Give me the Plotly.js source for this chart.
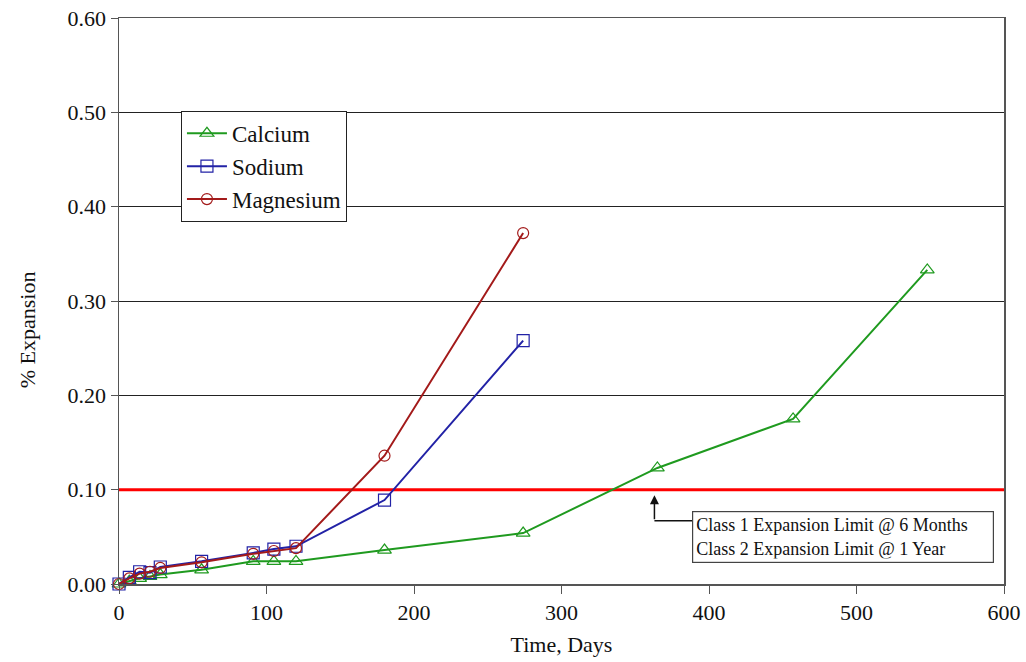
<!DOCTYPE html>
<html>
<head>
<meta charset="utf-8">
<script src="https://cdn.plot.ly/plotly-3.0.1.min.js"></script>
<style>
  html, body { margin: 0; padding: 0; background: #fff; }
  #chart { width: 1026px; height: 662px; }
</style>
</head>
<body>
<div id="chart"></div>
<script>
// Age (days) at each length reading
const calciumDays = [0, 7, 14, 21, 28, 56, 91, 105, 120, 180, 274, 365, 457, 548];
const calciumExp  = [0.000, 0.003, 0.006, 0.008, 0.010, 0.015, 0.024, 0.024, 0.024, 0.036, 0.054, 0.123, 0.175, 0.333];

const sodiumDays = [0, 7, 14, 21, 28, 56, 91, 105, 120, 180, 274];
const sodiumExp  = [0.000, 0.007, 0.013, 0.012, 0.018, 0.024, 0.033, 0.037, 0.040, 0.089, 0.258];

const magnesiumDays = [0, 7, 14, 21, 28, 56, 91, 105, 120, 180, 274];
const magnesiumExp  = [0.000, 0.006, 0.011, 0.013, 0.017, 0.023, 0.032, 0.035, 0.038, 0.136, 0.372];

// Expansion limit line
const limitDays = [0, 600];
const limitExp  = [0.10, 0.10];

// Callout geometry (data units)
const calloutDay = 363;
const calloutElbow = 0.067;
const calloutBoxDay = 388.5;
const calloutBoxTop = 0.077;
const calloutText = 'Class 1 Expansion Limit @ 6 Months<br>Class 2 Expansion Limit @ 1 Year';

const serif = 'Liberation Serif, Times New Roman, serif';

const traces = [
  {
    x: limitDays, y: limitExp, type: 'scatter', mode: 'lines',
    line: { color: '#ff0000', width: 3 }, showlegend: false, hoverinfo: 'skip'
  },
  {
    name: 'Calcium', x: calciumDays, y: calciumExp, type: 'scatter', mode: 'lines+markers',
    line: { color: '#1f9a1f', width: 2 },
    marker: { symbol: 'triangle-up-open', size: 12, color: '#1f9a1f', line: { width: 1.2 } },
    cliponaxis: false
  },
  {
    name: 'Sodium', x: sodiumDays, y: sodiumExp, type: 'scatter', mode: 'lines+markers',
    line: { color: '#2222a6', width: 2 },
    marker: { symbol: 'square-open', size: 12, color: '#2222a6', line: { width: 1.2 } },
    cliponaxis: false
  },
  {
    name: 'Magnesium', x: magnesiumDays, y: magnesiumExp, type: 'scatter', mode: 'lines+markers',
    line: { color: '#a31a1a', width: 2 },
    marker: { symbol: 'circle-open', size: 11, color: '#a31a1a', line: { width: 1.2 } },
    cliponaxis: false
  }
];

const layout = {
  width: 1026, height: 662,
  margin: { l: 119, r: 22, t: 18, b: 78 },
  paper_bgcolor: '#ffffff', plot_bgcolor: '#ffffff',
  font: { family: serif, size: 22, color: '#111' },
  xaxis: {
    range: [0, 600], dtick: 100, tick0: 0,
    showgrid: false, zeroline: false,
    showline: true, linecolor: '#555', linewidth: 1.5, mirror: true,
    ticks: 'outside', ticklen: 8, tickcolor: '#555',
    tickfont: { family: serif, size: 22, color: '#111' },
    title: { text: 'Time, Days', font: { family: serif, size: 22, color: '#111' }, standoff: 12 }
  },
  yaxis: {
    range: [0, 0.6], dtick: 0.1, tick0: 0, tickformat: '.2f',
    showgrid: true, gridcolor: '#222', gridwidth: 1, zeroline: false,
    showline: true, linecolor: '#555', linewidth: 1.5, mirror: true,
    ticks: 'outside', ticklen: 7, tickcolor: '#555',
    tickfont: { family: serif, size: 22, color: '#111' }
  },
  legend: {
    x: 0.07, y: 0.836, xanchor: 'left', yanchor: 'top',
    bgcolor: '#ffffff', bordercolor: '#222', borderwidth: 1,
    font: { family: serif, size: 23, color: '#111' },
    tracegroupgap: 0, itemwidth: 40
  },
  shapes: [
    {
      type: 'line', xref: 'x', yref: 'y',
      x0: calloutDay, x1: calloutBoxDay, y0: calloutElbow, y1: calloutElbow,
      line: { color: '#111', width: 1.5 }
    }
  ],
  annotations: [
    {
      // y-axis title, set as free text so it can sit a little below centre
      xref: 'paper', yref: 'paper', x: -0.104, y: 0.45,
      xanchor: 'center', yanchor: 'middle', textangle: -90,
      text: '% Expansion', showarrow: false,
      font: { family: serif, size: 22, color: '#111' }
    },
    {
      xref: 'x', yref: 'y', axref: 'x', ayref: 'y',
      x: calloutDay, y: 0.094, ax: calloutDay, ay: calloutElbow,
      text: '', showarrow: true, arrowhead: 2, arrowsize: 1.2, arrowwidth: 1.5, arrowcolor: '#111'
    },
    {
      xref: 'x', yref: 'y', x: calloutBoxDay, y: calloutBoxTop,
      xanchor: 'left', yanchor: 'top', align: 'left', width: 294,
      text: calloutText, showarrow: false,
      font: { family: serif, size: 18, color: '#111' },
      bordercolor: '#444', borderwidth: 1.2, borderpad: 3, bgcolor: '#ffffff'
    }
  ]
};

Plotly.newPlot('chart', traces, layout, { staticPlot: true, displayModeBar: false });
</script>
</body>
</html>
